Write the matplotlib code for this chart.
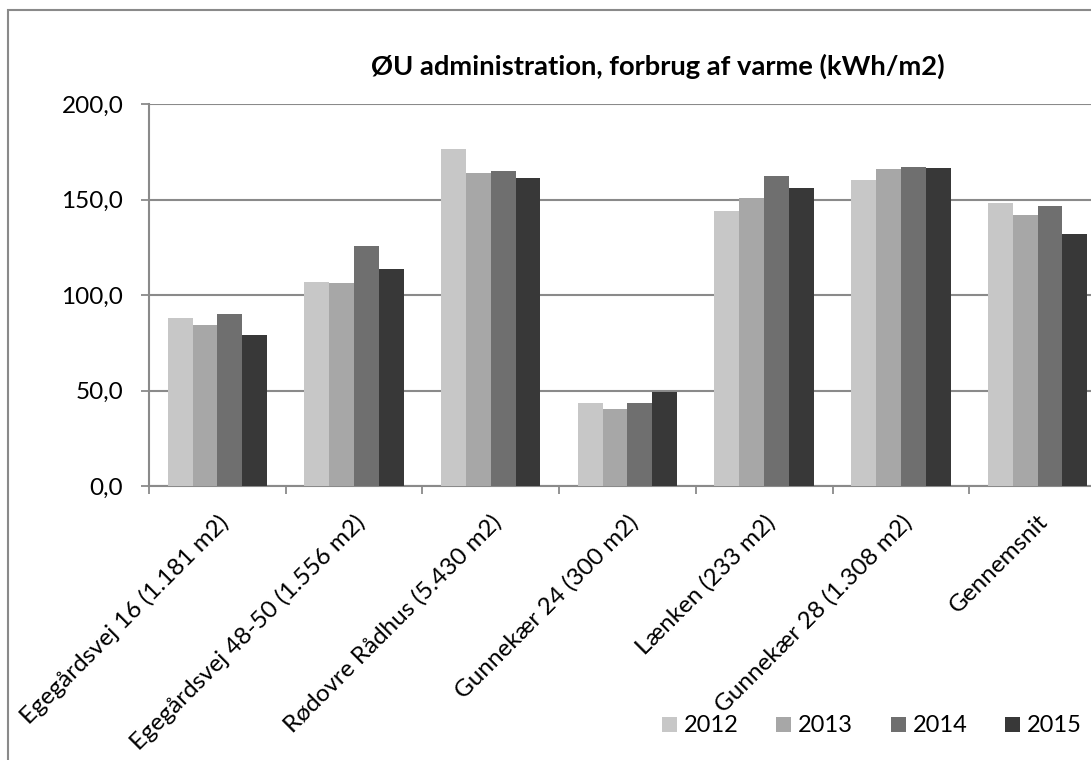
import matplotlib
matplotlib.use("Agg")
import matplotlib.pyplot as plt
from matplotlib.patches import Rectangle, Patch
import numpy as np

categories = ["Egegårdsvej 16 (1.181 m2)", "Egegårdsvej 48-50 (1.556 m2)",
              "Rødovre Rådhus (5.430 m2)", "Gunnekær 24 (300 m2)",
              "Lænken (233 m2)", "Gunnekær 28 (1.308 m2)", "Gennemsnit"]
years = ["2012", "2013", "2014", "2015"]
v2012 = [88.0, 107.0, 176.3, 43.3, 144.0, 160.4, 148.2]
v2013 = [84.1, 106.5, 164.0, 40.3, 150.9, 166.1, 141.9]
v2014 = [90.0, 125.8, 165.1, 43.3, 162.1, 166.8, 146.6]
v2015 = [79.0, 113.6, 161.4, 49.0, 155.8, 166.6, 131.8]
series = [v2012, v2013, v2014, v2015]
colors = ["#C7C7C7", "#A7A7A7", "#6F6F6F", "#383838"]
title = "ØU administration, forbrug af varme (kWh/m2)"
yticks = [0, 50, 100, 150, 200]

plt.rcParams['font.family'] = ['Lato', 'DejaVu Sans']
W, H = 1091, 760
fig = plt.figure(figsize=(W / 100, H / 100), dpi=100)
fig.patch.set_facecolor('white')

left, right, top, bottom = 149, 1106, 104, 486
ax = fig.add_axes([left / W, 1 - bottom / H, (right - left) / W, (bottom - top) / H])

n = len(categories)
x = np.arange(n)
w = 1 / 5.5
for i, (vals, c) in enumerate(zip(series, colors)):
    ax.bar(x - 1.5 * w + i * w, vals, width=w, color=c, label=years[i], zorder=3)

ax.set_xlim(-0.5, n - 0.5)
ax.set_ylim(0, 200)
ax.set_yticks(yticks)
ax.set_yticklabels([f"{t:.1f}".replace('.', ',') for t in yticks])
ax.yaxis.grid(True, color='#8A8A8A', lw=1.5, zorder=0)
ax.set_axisbelow(True)

for s in ['top', 'right']:
    ax.spines[s].set_visible(False)
for s in ['left', 'bottom']:
    ax.spines[s].set_color('#8A8A8A')
    ax.spines[s].set_linewidth(1.5)

ax.set_xticks(np.arange(n + 1) - 0.5)
ax.set_xticklabels([])
ax.set_xticks(x, minor=True)
ax.set_xticklabels(categories, minor=True, rotation=45, ha='right',
                   rotation_mode='anchor', fontsize=17.5)
ax.tick_params(axis='x', which='minor', length=0, pad=18)
ax.tick_params(axis='x', which='major', length=6, width=1.3, color='#8A8A8A', direction='out')
ax.tick_params(axis='y', length=6, width=1.3, color='#8A8A8A', labelsize=17.5, pad=12.5)

fig.text(658 / W, 1 - 66 / H, title, ha='center', va='center',
         fontweight='bold', fontsize=19.7)

handles = [Patch(facecolor=c, edgecolor='none') for c in colors]
fig.legend(handles, years, loc='center', bbox_to_anchor=(872 / W, 1 - 726 / H),
           ncol=4, frameon=False, fontsize=17, handlelength=0.62, handleheight=0.62,
           handletextpad=0.3, columnspacing=1.6, borderpad=0, borderaxespad=0)

fig.patches.append(Rectangle((8 / W, -0.1), 2, 1.1 - 10 / H, transform=fig.transFigure,
                             fill=False, edgecolor='#8A8A8A', lw=1.5))

fig.savefig("out.png", dpi=100)
